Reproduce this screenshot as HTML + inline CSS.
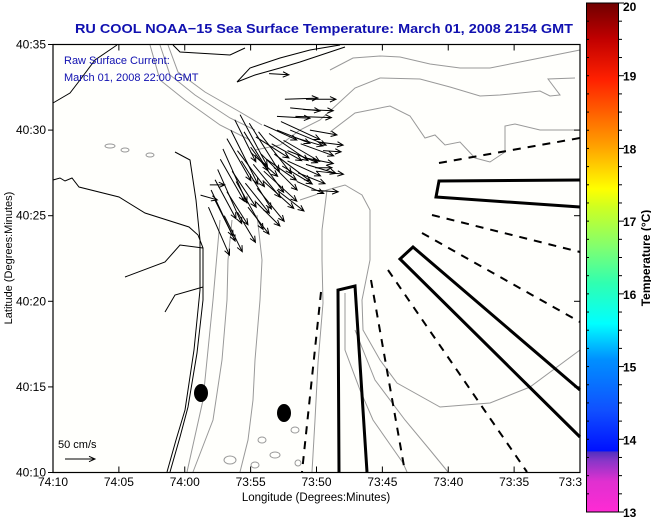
<!DOCTYPE html>
<html><head><meta charset="utf-8"><style>
html,body{margin:0;padding:0;background:#fff;}
svg{display:block;font-family:"Liberation Sans",Arial,sans-serif;}
</style></head><body>
<svg id="chart" width="651" height="518" viewBox="0 0 651 518" xmlns="http://www.w3.org/2000/svg">
<defs>
<linearGradient id="cbar" x1="0" y1="1" x2="0" y2="0">
<stop offset="0" stop-color="#ff2ad4"/>
<stop offset="0.06" stop-color="#e030d0"/>
<stop offset="0.1" stop-color="#8a36c8"/>
<stop offset="0.118" stop-color="#5030c0"/>
<stop offset="0.12" stop-color="#0010ff"/>
<stop offset="0.2" stop-color="#1050ff"/>
<stop offset="0.3" stop-color="#0090ff"/>
<stop offset="0.37" stop-color="#00ffff"/>
<stop offset="0.45" stop-color="#30ffb0"/>
<stop offset="0.52" stop-color="#80ff70"/>
<stop offset="0.6" stop-color="#d0ff20"/>
<stop offset="0.635" stop-color="#ffff00"/>
<stop offset="0.72" stop-color="#ffa000"/>
<stop offset="0.85" stop-color="#ff2000"/>
<stop offset="0.93" stop-color="#c00000"/>
<stop offset="1" stop-color="#700000"/>
</linearGradient>
</defs>
<rect x="53" y="44.5" width="527" height="428" fill="#fffffc"/>
<g id="basemap" fill="none">
<g stroke="#999" stroke-width="1">
<path d="M330,70 L353,58 L380,56 L400,57 L430,64 L460,68 L490,68 L520,62 L550,56 L580,50"/>
<path d="M330,111 L355,88 L380,78 L420,79 L450,87 L480,96 L500,95 L540,91 L550,96 L560,95 L548,79 L575,78"/>
<path d="M330,132 L355,113 L390,106 L410,116 L425,138 L435,135 L445,145 L460,142 L475,158 L490,162 L505,152 L505,126 L515,124 L540,130 L580,130"/>
<path d="M255,150 L280,145 L300,130 L320,120 L330,111"/>
<path d="M150,45 L160,80 L185,100 L220,125 L250,140"/>
<path d="M160,45 L170,75 L195,95 L230,118 L255,130"/>
<path d="M168,45 L178,72 L205,92 L240,112 L262,125"/>
<path d="M300,200 L315,195 L327,190 L345,185 L362,195 L370,210 L370,260 L362,300 L363,330 L380,360 L397,383 L440,407 L490,403 L530,387 L580,350"/>
<path d="M327,190 L322,230 L322,260 L323,303 L318,363 L315,420 L312,472"/>
<path d="M345,293 L345,350 L360,390 L373,420 L403,463 L407,472"/>
<path d="M355,330 L375,380 L405,420 L430,450 L448,472"/>
<path d="M220,220 L213,300 L203,400 L187,472"/>
<path d="M232,220 L228,260 L227,300 L222,360 L213,420 L193,472"/>
<path d="M257,215 L262,260 L260,300 L255,360 L253,400 L248,440 L240,472"/>
<ellipse cx="275" cy="455" rx="5" ry="3"/><ellipse cx="262" cy="440" rx="4" ry="3"/><ellipse cx="295" cy="430" rx="4" ry="3"/>
<ellipse cx="230" cy="460" rx="6" ry="4"/><ellipse cx="255" cy="465" rx="4" ry="3"/><ellipse cx="298" cy="463" rx="3" ry="3"/>
<ellipse cx="110" cy="146" rx="5" ry="2"/><ellipse cx="125" cy="150" rx="4" ry="2"/><ellipse cx="150" cy="155" rx="4" ry="2"/>
</g>
<g stroke="#000" stroke-width="1">
<path d="M53,103 L70,93 L80,80 L95,60 L117,45"/>
<path d="M53,180 L60,178 L65,181 L72,178 L79,187 L119,197 L145,213 L189,227 L198,235 L203,248 L203,300 L197,353 L188,407 L180,437 L170,472"/>
<path d="M175,152 L190,160 L196,200 L200,240 L200,290 L194,350 L185,410 L176,440 L167,472"/>
<path d="M203,248 L180,245 L165,262 L125,277"/>
<path d="M203,287 L175,295 L165,312"/>
<path d="M237,82 L250,68 L280,58 L310,50 L340,45 M237,82 L255,75 L280,68 L300,62 L330,52 L345,47"/>
<path d="M173,45 L180,52 L230,55 L245,48"/>
</g>
<g fill="#000">
<ellipse cx="201" cy="393" rx="7" ry="9"/>
<ellipse cx="284" cy="413" rx="7" ry="9"/>
</g>
<g stroke="#000" stroke-width="3" fill="none">
<path d="M580,180 L439,181 L436,197 L580,207"/>
<path d="M580,390 L413,247 L400,259 L580,437"/>
<path d="M339,472 L338,290 L355,286 L367,472"/>
</g>
<g stroke="#000" stroke-width="2" fill="none" stroke-dasharray="8,7">
<path d="M439,163 L580,138"/>
<path d="M432,215 L580,252"/>
<path d="M422,233 L580,322"/>
<path d="M388,270 L527,472"/>
<path d="M371,280 L405,472"/>
<path d="M321,292 L302,472"/>
</g>
</g>
<g id="vectors" stroke="#000" stroke-width="1" fill="none"></g>
<rect x="53" y="44.5" width="527" height="428" fill="none" stroke="#000" stroke-width="1.2"/>
<g id="axes" font-size="12" fill="#000"></g>
<text x="324" y="33" text-anchor="middle" font-size="13" font-weight="bold" fill="#1010b0" textLength="498" lengthAdjust="spacingAndGlyphs">RU COOL  NOAA−15  Sea Surface Temperature:  March 01, 2008 2154 GMT</text>
<text x="64" y="64" font-size="11" fill="#1010b0">Raw Surface Current:</text>
<text x="64" y="81" font-size="11" fill="#1010b0">March 01, 2008 22:00 GMT</text>
<text x="58" y="448" font-size="11">50 cm/s</text>
<text x="316" y="501" text-anchor="middle" font-size="11.5">Longitude (Degrees:Minutes)</text>
<text transform="translate(12,258) rotate(-90)" text-anchor="middle" font-size="11">Latitude (Degrees:Minutes)</text>
<rect x="586.5" y="3" width="32" height="509" fill="url(#cbar)" stroke="#000" stroke-width="1"/>
<g id="cbticks" font-size="12" font-weight="bold"></g>
<text transform="translate(650,258) rotate(-90)" text-anchor="middle" font-size="12" font-weight="bold">Temperature (°C)</text>
</svg>
<script>
// current vectors: [lon minutes east of 74:10W, lat minutes north of 40:10N, u cm/s, v cm/s]
const vecLon = [17.6,18.4,17.0,16.0,17.0,18.2,15.4,16.6,17.8,19.0,20.0,15.0,16.2,17.4,18.6,19.6,13.8,13.2,12.7,12.3,12.3,14.5,14.0,13.6,13.2,15.2,14.6,16.0,15.4,17.0,14.0,11.9,11.2,16.4,20.5,19.9,
 14.2,14.9,15.6,13.5,12.9,12.5,12.0,11.8,13.9,14.3,15.0,15.8,16.4,17.3,18.0,18.8,17.5,16.8,16.0,15.5,17.8,18.5,19.2,19.2,19.0,18.0,19.5,20.2,14.8,13.0];
const vecLat = [21.8,20.8,20.8,20.3,20.0,19.6,19.6,19.2,18.8,18.4,17.6,18.7,18.3,17.9,17.5,16.5,20.6,19.5,18.3,17.1,15.9,19.9,18.8,17.6,16.4,18.0,16.9,17.0,15.8,16.5,15.2,16.8,16.2,23.3,18.8,17.8,
 20.9,20.4,19.9,20.0,18.9,17.7,16.5,15.5,17.0,18.2,19.0,18.6,19.8,20.5,20.0,19.2,19.4,18.6,17.6,16.6,18.2,17.0,18.0,21.8,21.2,21.3,20.0,19.3,15.5,15.0];
const vecU = [55,60,55,55,55,50,55,50,50,50,45,45,50,50,45,45,35,40,40,35,30,40,45,40,35,45,40,50,40,45,30,25,28,33,30,28,
 45,50,55,45,40,40,40,35,45,50,55,60,65,65,60,55,60,60,55,45,55,45,50,50,50,50,45,40,35,30];
const vecV = [2,-2,-3,-25,-22,-15,-35,-28,-20,-10,-5,-40,-35,-30,-18,-3,-70,-70,-70,-65,-60,-65,-60,-60,-55,-55,-50,-45,-40,-35,-50,0,-8,-2,-2,0,
 -85,-80,-70,-90,-90,-90,-85,-80,-80,-80,-75,-60,-45,-30,-25,-20,-35,-45,-50,-55,-25,-20,-15,0,-2,-5,-8,-5,-45,-60];
const xTickLabels = ["74:10","74:05","74:00","73:55","73:50","73:45","73:40","73:35","73:3"];
const yTickLabels = ["40:10","40:15","40:20","40:25","40:30","40:35"];
const cbTickLabels = ["13","14","15","16","17","18","19","20"];
const NS="http://www.w3.org/2000/svg";
const x0=53,x1=580,y0=472.5,y1=44.5;
function xScale(m){return x0+m*(x1-x0)/40;}
function yScale(m){return y0-m*(y0-y1)/25;}
function cbScale(t){return 512-(t-13)*(509/7);}
const speedPx=0.6;
function mk(tag,attrs,parent){const e=document.createElementNS(NS,tag);for(const k in attrs)e.setAttribute(k,attrs[k]);parent.appendChild(e);return e;}
function arrow(g,x,y,dx,dy){
  const ex=x+dx,ey=y+dy,len=Math.hypot(dx,dy)||1,ux=dx/len,uy=dy/len,h=6;
  const p=mk('path',{d:`M${x},${y}L${ex},${ey}M${ex-h*ux+h*0.45*uy},${ey-h*uy-h*0.45*ux}L${ex},${ey}L${ex-h*ux-h*0.45*uy},${ey-h*uy+h*0.45*ux}`},g);
  return p;
}
const vg=document.getElementById('vectors');
for(let i=0;i<vecLon.length;i++){
  const p=arrow(vg,xScale(vecLon[i]),yScale(vecLat[i]),vecU[i]*speedPx,-vecV[i]*speedPx);
  
  
}
const sa=arrow(document.getElementById('chart'),65,459,50*speedPx,0);
sa.setAttribute('stroke','#000');sa.setAttribute('fill','none');


const ax=document.getElementById('axes');
xTickLabels.forEach((l,i)=>{
  const x=xScale(i*5);
  const t1=mk('line',{x1:x,x2:x,y1:y0,y2:y0-6,stroke:'#000'},ax);
  
  
  const t2=mk('line',{x1:x,x2:x,y1:y1,y2:y1+6,stroke:'#000'},ax);
  
  
  const tx=mk('text',{x:(i==8?x+2:x),y:486,'text-anchor':(i==8?'end':'middle'),'font-size':12},ax);
  tx.textContent=l;
  
  
});
yTickLabels.forEach((l,i)=>{
  const y=yScale(i*5);
  const t1=mk('line',{x1:x0-5,x2:x0,y1:y,y2:y,stroke:'#000'},ax);
  
  
  const t2=mk('line',{x1:x1,x2:x1-6,y1:y,y2:y,stroke:'#000'},ax);
  
  
  const tx=mk('text',{x:46,y:y+4,'text-anchor':'end','font-size':12},ax);
  tx.textContent=l;
  
  
});
const cb=document.getElementById('cbticks');
for(let k=0;k<=28;k++){
  const y=cbScale(13+k*0.25);
  const major=k%4==0;
  const tl=mk('line',{x1:618.5,x2:major?624:622,y1:y,y2:y,stroke:'#000'},cb);
  
  
  const tl2=mk('line',{x1:586.5,x2:589,y1:y,y2:y,stroke:'#000'},cb);
  
  
}
cbTickLabels.forEach((l,i)=>{
  let y=cbScale(+l)+5;
  if(i==7)y=cbScale(+l)+8;
  const tx=mk('text',{x:623,y:y},cb);
  tx.textContent=l;
  
  
});
</script>
</body></html>
